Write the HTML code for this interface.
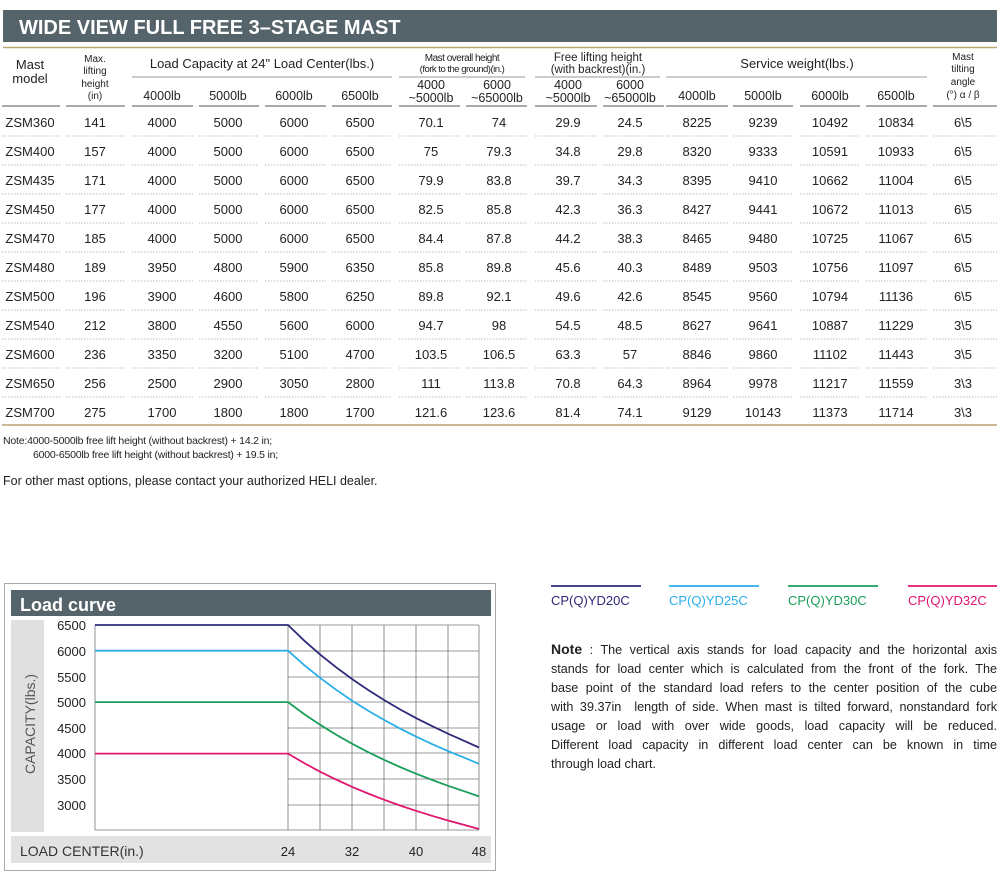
<!DOCTYPE html>
<html><head><meta charset="utf-8"><style>
html,body{margin:0;padding:0;background:#fff;width:1000px;height:893px;overflow:hidden}
svg{position:absolute;left:0;top:0}
text{font-family:"Liberation Sans",sans-serif;fill:#222}
.c{text-anchor:middle}
.v{font-size:13px}
#note{position:absolute;left:551px;top:640px;width:446px;font-family:"Liberation Sans",sans-serif;font-size:12.6px;line-height:19px;color:#222}
#note div{text-align:justify;text-align-last:justify;white-space:nowrap;overflow:visible}
#note div.l{text-align-last:left}
</style></head><body>
<svg width="1000" height="893" viewBox="0 0 1000 893">
<rect x="3" y="10" width="994" height="32" fill="#55646a"/>
<text x="19" y="34" font-size="20" font-weight="bold" style="fill:#fff">WIDE VIEW FULL FREE 3–STAGE MAST</text>
<line x1="3" y1="47.5" x2="997" y2="47.5" stroke="#b8a870" stroke-width="1.5"/>
<g font-size="13" class="c">
<text x="30" y="69" class="c">Mast</text><text x="30" y="83" class="c">model</text>
<text x="95" y="62" font-size="10" class="c">Max.</text><text x="95" y="74" font-size="10" class="c">lifting</text>
<text x="95" y="87" font-size="10" class="c">height</text><text x="95" y="99" font-size="10" class="c">(in)</text>
<text x="262" y="68" class="c">Load Capacity at 24" Load Center(lbs.)</text>
<text x="462" y="61" font-size="10" class="c" letter-spacing="-0.5">Mast overall height</text>
<text x="462" y="72" font-size="9.5" class="c" letter-spacing="-0.5">(fork to the ground)(in.)</text>
<text x="598" y="61" font-size="11.5" class="c">Free lifting height</text>
<text x="598" y="73" font-size="11.5" class="c">(with backrest)(in.)</text>
<text x="797" y="68" class="c">Service weight(lbs.)</text>
<text x="963" y="60" font-size="10" class="c">Mast</text><text x="963" y="72" font-size="10" class="c">tilting</text>
<text x="963" y="85" font-size="10" class="c">angle</text><text x="963" y="98" font-size="10" class="c">(°)  α / β</text>
</g>
<g stroke="#999" stroke-width="1">
<line x1="132" y1="77" x2="392" y2="77"/><line x1="399" y1="77" x2="525" y2="77"/>
<line x1="535" y1="77" x2="660" y2="77"/><line x1="666" y1="77" x2="927" y2="77"/>
</g>
<g font-size="12.5">
<text x="162" y="100" class="c">4000lb</text><text x="228" y="100" class="c">5000lb</text>
<text x="294" y="100" class="c">6000lb</text><text x="360" y="100" class="c">6500lb</text>
<text x="431" y="89" class="c">4000</text><text x="431" y="102" class="c">~5000lb</text>
<text x="497" y="89" class="c">6000</text><text x="497" y="102" class="c">~65000lb</text>
<text x="568" y="89" class="c">4000</text><text x="568" y="102" class="c">~5000lb</text>
<text x="630" y="89" class="c">6000</text><text x="630" y="102" class="c">~65000lb</text>
<text x="697" y="100" class="c">4000lb</text><text x="763" y="100" class="c">5000lb</text>
<text x="830" y="100" class="c">6000lb</text><text x="896" y="100" class="c">6500lb</text>
</g>
<g stroke="#aaa" stroke-width="2">
<line x1="2" y1="106" x2="60" y2="106"/><line x1="66" y1="106" x2="125" y2="106"/>
<line x1="132" y1="106" x2="193" y2="106"/><line x1="199" y1="106" x2="259" y2="106"/>
<line x1="265" y1="106" x2="326" y2="106"/><line x1="332" y1="106" x2="392" y2="106"/>
<line x1="399" y1="106" x2="460" y2="106"/><line x1="466" y1="106" x2="527" y2="106"/>
<line x1="535" y1="106" x2="597" y2="106"/><line x1="603" y1="106" x2="664" y2="106"/>
<line x1="666" y1="106" x2="728" y2="106"/><line x1="733" y1="106" x2="793" y2="106"/>
<line x1="800" y1="106" x2="860" y2="106"/><line x1="866" y1="106" x2="927" y2="106"/>
<line x1="933" y1="106" x2="997" y2="106"/>
</g>
<defs><g id="sep" stroke="#bbb" stroke-width="1" stroke-dasharray="1.5 1.5">
<line x1="2" y1="0" x2="60" y2="0"/><line x1="66" y1="0" x2="125" y2="0"/>
<line x1="132" y1="0" x2="193" y2="0"/><line x1="199" y1="0" x2="259" y2="0"/>
<line x1="265" y1="0" x2="326" y2="0"/><line x1="332" y1="0" x2="392" y2="0"/>
<line x1="399" y1="0" x2="460" y2="0"/><line x1="466" y1="0" x2="527" y2="0"/>
<line x1="535" y1="0" x2="597" y2="0"/><line x1="603" y1="0" x2="664" y2="0"/>
<line x1="666" y1="0" x2="728" y2="0"/><line x1="733" y1="0" x2="793" y2="0"/>
<line x1="800" y1="0" x2="860" y2="0"/><line x1="866" y1="0" x2="927" y2="0"/>
<line x1="933" y1="0" x2="997" y2="0"/></g></defs>
<use href="#sep" y="136"/><use href="#sep" y="165"/><use href="#sep" y="194"/><use href="#sep" y="223"/>
<use href="#sep" y="252"/><use href="#sep" y="281"/><use href="#sep" y="310"/><use href="#sep" y="339"/>
<use href="#sep" y="368"/><use href="#sep" y="397"/>
<line x1="2" y1="425" x2="997" y2="425" stroke="#b8a070" stroke-width="1.5"/>
<g class="v">
<g transform="translate(0,127)"><text x="30" class="c">ZSM360</text><text x="95" class="c">141</text><text x="162" class="c">4000</text><text x="228" class="c">5000</text><text x="294" class="c">6000</text><text x="360" class="c">6500</text><text x="431" class="c">70.1</text><text x="499" class="c">74</text><text x="568" class="c">29.9</text><text x="630" class="c">24.5</text><text x="697" class="c">8225</text><text x="763" class="c">9239</text><text x="830" class="c">10492</text><text x="896" class="c">10834</text><text x="963" class="c">6\5</text></g>
<g transform="translate(0,156)"><text x="30" class="c">ZSM400</text><text x="95" class="c">157</text><text x="162" class="c">4000</text><text x="228" class="c">5000</text><text x="294" class="c">6000</text><text x="360" class="c">6500</text><text x="431" class="c">75</text><text x="499" class="c">79.3</text><text x="568" class="c">34.8</text><text x="630" class="c">29.8</text><text x="697" class="c">8320</text><text x="763" class="c">9333</text><text x="830" class="c">10591</text><text x="896" class="c">10933</text><text x="963" class="c">6\5</text></g>
<g transform="translate(0,185)"><text x="30" class="c">ZSM435</text><text x="95" class="c">171</text><text x="162" class="c">4000</text><text x="228" class="c">5000</text><text x="294" class="c">6000</text><text x="360" class="c">6500</text><text x="431" class="c">79.9</text><text x="499" class="c">83.8</text><text x="568" class="c">39.7</text><text x="630" class="c">34.3</text><text x="697" class="c">8395</text><text x="763" class="c">9410</text><text x="830" class="c">10662</text><text x="896" class="c">11004</text><text x="963" class="c">6\5</text></g>
<g transform="translate(0,214)"><text x="30" class="c">ZSM450</text><text x="95" class="c">177</text><text x="162" class="c">4000</text><text x="228" class="c">5000</text><text x="294" class="c">6000</text><text x="360" class="c">6500</text><text x="431" class="c">82.5</text><text x="499" class="c">85.8</text><text x="568" class="c">42.3</text><text x="630" class="c">36.3</text><text x="697" class="c">8427</text><text x="763" class="c">9441</text><text x="830" class="c">10672</text><text x="896" class="c">11013</text><text x="963" class="c">6\5</text></g>
<g transform="translate(0,243)"><text x="30" class="c">ZSM470</text><text x="95" class="c">185</text><text x="162" class="c">4000</text><text x="228" class="c">5000</text><text x="294" class="c">6000</text><text x="360" class="c">6500</text><text x="431" class="c">84.4</text><text x="499" class="c">87.8</text><text x="568" class="c">44.2</text><text x="630" class="c">38.3</text><text x="697" class="c">8465</text><text x="763" class="c">9480</text><text x="830" class="c">10725</text><text x="896" class="c">11067</text><text x="963" class="c">6\5</text></g>
<g transform="translate(0,272)"><text x="30" class="c">ZSM480</text><text x="95" class="c">189</text><text x="162" class="c">3950</text><text x="228" class="c">4800</text><text x="294" class="c">5900</text><text x="360" class="c">6350</text><text x="431" class="c">85.8</text><text x="499" class="c">89.8</text><text x="568" class="c">45.6</text><text x="630" class="c">40.3</text><text x="697" class="c">8489</text><text x="763" class="c">9503</text><text x="830" class="c">10756</text><text x="896" class="c">11097</text><text x="963" class="c">6\5</text></g>
<g transform="translate(0,301)"><text x="30" class="c">ZSM500</text><text x="95" class="c">196</text><text x="162" class="c">3900</text><text x="228" class="c">4600</text><text x="294" class="c">5800</text><text x="360" class="c">6250</text><text x="431" class="c">89.8</text><text x="499" class="c">92.1</text><text x="568" class="c">49.6</text><text x="630" class="c">42.6</text><text x="697" class="c">8545</text><text x="763" class="c">9560</text><text x="830" class="c">10794</text><text x="896" class="c">11136</text><text x="963" class="c">6\5</text></g>
<g transform="translate(0,330)"><text x="30" class="c">ZSM540</text><text x="95" class="c">212</text><text x="162" class="c">3800</text><text x="228" class="c">4550</text><text x="294" class="c">5600</text><text x="360" class="c">6000</text><text x="431" class="c">94.7</text><text x="499" class="c">98</text><text x="568" class="c">54.5</text><text x="630" class="c">48.5</text><text x="697" class="c">8627</text><text x="763" class="c">9641</text><text x="830" class="c">10887</text><text x="896" class="c">11229</text><text x="963" class="c">3\5</text></g>
<g transform="translate(0,359)"><text x="30" class="c">ZSM600</text><text x="95" class="c">236</text><text x="162" class="c">3350</text><text x="228" class="c">3200</text><text x="294" class="c">5100</text><text x="360" class="c">4700</text><text x="431" class="c">103.5</text><text x="499" class="c">106.5</text><text x="568" class="c">63.3</text><text x="630" class="c">57</text><text x="697" class="c">8846</text><text x="763" class="c">9860</text><text x="830" class="c">11102</text><text x="896" class="c">11443</text><text x="963" class="c">3\5</text></g>
<g transform="translate(0,388)"><text x="30" class="c">ZSM650</text><text x="95" class="c">256</text><text x="162" class="c">2500</text><text x="228" class="c">2900</text><text x="294" class="c">3050</text><text x="360" class="c">2800</text><text x="431" class="c">111</text><text x="499" class="c">113.8</text><text x="568" class="c">70.8</text><text x="630" class="c">64.3</text><text x="697" class="c">8964</text><text x="763" class="c">9978</text><text x="830" class="c">11217</text><text x="896" class="c">11559</text><text x="963" class="c">3\3</text></g>
<g transform="translate(0,417)"><text x="30" class="c">ZSM700</text><text x="95" class="c">275</text><text x="162" class="c">1700</text><text x="228" class="c">1800</text><text x="294" class="c">1800</text><text x="360" class="c">1700</text><text x="431" class="c">121.6</text><text x="499" class="c">123.6</text><text x="568" class="c">81.4</text><text x="630" class="c">74.1</text><text x="697" class="c">9129</text><text x="763" class="c">10143</text><text x="830" class="c">11373</text><text x="896" class="c">11714</text><text x="963" class="c">3\3</text></g>
</g>
<text x="3" y="444" font-size="10.5" letter-spacing="-0.2">Note:4000-5000lb free lift height (without backrest) + 14.2 in;</text>
<text x="33" y="458" font-size="10.5" letter-spacing="-0.2">6000-6500lb free lift height (without backrest) + 19.5 in;</text>
<text x="3" y="485" font-size="12.5">For other mast options, please contact your authorized HELI dealer.</text>

<!-- chart -->
<rect x="4.5" y="583.5" width="491" height="287" fill="none" stroke="#aaa"/>
<rect x="11" y="590" width="480" height="26" fill="#55646a"/>
<text x="20" y="611" font-size="18" font-weight="bold" style="fill:#fff">Load curve</text>
<rect x="11" y="620" width="33" height="212" fill="#e0e0e0"/>
<text transform="translate(35,724) rotate(-90)" font-size="14" class="c" style="fill:#555">CAPACITY(lbs.)</text>
<g font-size="13" text-anchor="end">
<text x="86" y="630">6500</text><text x="86" y="656">6000</text><text x="86" y="682">5500</text>
<text x="86" y="707">5000</text><text x="86" y="733">4500</text><text x="86" y="758">4000</text>
<text x="86" y="784">3500</text><text x="86" y="810">3000</text>
</g>
<g stroke="#777" stroke-width="0.8">
<line x1="95" y1="625" x2="95" y2="830"/><line x1="95" y1="830" x2="479" y2="830"/>
<line x1="288" y1="625" x2="288" y2="830"/><line x1="320" y1="625" x2="320" y2="830"/>
<line x1="352" y1="625" x2="352" y2="830"/><line x1="384" y1="625" x2="384" y2="830"/>
<line x1="416" y1="625" x2="416" y2="830"/><line x1="448" y1="625" x2="448" y2="830"/>
<line x1="479" y1="625" x2="479" y2="830"/>
<line x1="288" y1="625" x2="479" y2="625"/><line x1="288" y1="651" x2="479" y2="651"/>
<line x1="288" y1="677" x2="479" y2="677"/><line x1="288" y1="702" x2="479" y2="702"/>
<line x1="288" y1="728" x2="479" y2="728"/><line x1="288" y1="753" x2="479" y2="753"/>
<line x1="288" y1="779" x2="479" y2="779"/><line x1="288" y1="805" x2="479" y2="805"/>
</g>
<g fill="none" stroke-width="1.8">
<polyline stroke="#2e2a7a" points="95,625 288,625 304,640.4 320,654.4 336,667.2 352,679 368,689.9 384,700 400,709.4 416,718.1 432,726.1 448,733.7 464,740.8 479,747.5"/>
<polyline stroke="#29aee8" points="95,650.7 288,650.7 304,664.9 320,677.8 336,689.7 352,700.6 368,710.6 384,719.9 400,728.6 416,736.6 432,744.1 448,751.1 464,757.6 479,763.8"/>
<polyline stroke="#1a9e5a" points="95,702.1 288,702.1 304,714 320,724.7 336,734.6 352,743.7 368,752.1 384,759.8 400,767 416,773.7 432,779.9 448,785.8 464,791.2 479,796.4"/>
<polyline stroke="#e0156f" points="95,753.6 288,753.6 304,763 320,771.7 336,779.5 352,786.8 368,793.5 384,799.7 400,805.5 416,810.8 432,815.8 448,820.5 464,824.9 479,829"/>
</g>
<rect x="11" y="836" width="480" height="27" fill="#e2e2e2"/>
<text x="20" y="856" font-size="14" style="fill:#333">LOAD CENTER(in.)</text>
<g font-size="13" class="c">
<text x="288" y="856" class="c">24</text><text x="352" y="856" class="c">32</text>
<text x="416" y="856" class="c">40</text><text x="479" y="856" class="c">48</text>
</g>
<!-- legend -->
<g stroke-width="1.8">
<line x1="551" y1="586" x2="641" y2="586" stroke="#2e2a7a"/>
<line x1="669" y1="586" x2="759" y2="586" stroke="#29aee8"/>
<line x1="788" y1="586" x2="878" y2="586" stroke="#1a9e5a"/>
<line x1="908" y1="586" x2="997" y2="586" stroke="#e0156f"/>
</g>
<g font-size="13">
<text x="551" y="605" style="fill:#2e2a7a">CP(Q)YD20C</text>
<text x="669" y="605" style="fill:#29aee8">CP(Q)YD25C</text>
<text x="788" y="605" style="fill:#1a9e5a">CP(Q)YD30C</text>
<text x="908" y="605" style="fill:#e0156f">CP(Q)YD32C</text>
</g>
</svg>
<div id="note">
<div><b style="font-size:14px">Note</b> : The vertical axis stands for load capacity and the horizontal axis</div>
<div>stands for load center which is calculated from the front of the fork. The</div>
<div>base point of the standard load refers to the center position of the cube</div>
<div>with 39.37in&nbsp; length of side. When mast is tilted forward, nonstandard fork</div>
<div>usage or load with over wide goods, load capacity will be reduced.</div>
<div>Different load capacity in different load center can be known in time</div>
<div class="l">through load chart.</div>
</div>
</body></html>
